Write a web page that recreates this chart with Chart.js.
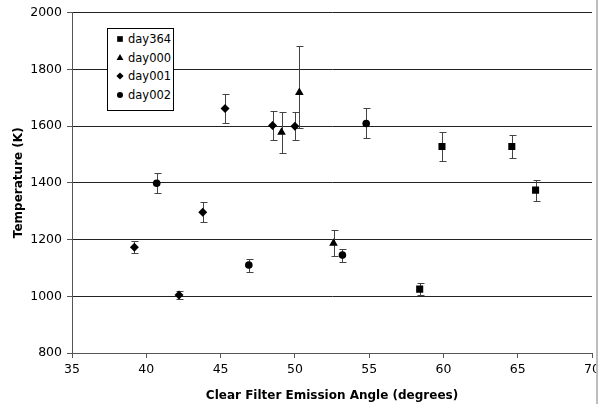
<!DOCTYPE html>
<html>
<head>
<meta charset="utf-8">
<script src="https://cdn.jsdelivr.net/npm/chart.js@4.4.1/dist/chart.umd.min.js"></script>
<style>
  html, body { margin: 0; padding: 0; background: #fff; }
  #wrap { position: relative; width: 604px; height: 404px; }
  #legend {
    position: absolute; left: 107px; top: 28px; width: 65px; height: 81px;
    border: 1px solid #000; background: #fff;
    font: 11.5px "DejaVu Sans", Verdana, sans-serif; color: #000;
  }
  #legend .row { position: absolute; left: 0; height: 18px; line-height: 18px; }
  #legend canvas { position: absolute; left: 5px; top: 2px; }
  #legend span { position: absolute; left: 20px; top: 0; white-space: nowrap; }
</style>
</head>
<body>
<div id="wrap">
  <canvas id="chart" width="604" height="404"></canvas>
  <div id="legend"></div>
</div>
<script>
// series
const seriesNames = ['day364', 'day000', 'day001', 'day002'];
const pointStyles = ['rect', 'triangle', 'rectRot', 'circle'];
const pointSizes = [5, 5, 4.5, 3.8];

const day364Angle = [58.4, 59.9, 64.6, 66.2];
const day364Temp = [1025, 1528, 1528, 1374];
const day364ErrUp = [21, 51, 42, 37];
const day364ErrDown = [21, 51, 42, 37];

const day000Angle = [49.1, 50.3, 52.6];
const day000Temp = [1578, 1718, 1187];
const day000ErrUp = [72, 165, 46];
const day000ErrDown = [72, 126, 46];

const day001Angle = [39.2, 42.2, 43.8, 45.3, 48.5, 50.0];
const day001Temp = [1173, 1004, 1296, 1662, 1602, 1599];
const day001ErrUp = [21, 14, 35, 51, 51, 49];
const day001ErrDown = [21, 14, 35, 51, 51, 49];

const day002Angle = [40.7, 46.9, 53.2, 54.8];
const day002Temp = [1398, 1110, 1145, 1609];
const day002ErrUp = [35, 23, 23, 53];
const day002ErrDown = [35, 23, 23, 53];

const xTicks = [35, 40, 45, 50, 55, 60, 65, 70];
const yTicks = [800, 1000, 1200, 1400, 1600, 1800, 2000];

const angles = [day364Angle, day000Angle, day001Angle, day002Angle];
const temps = [day364Temp, day000Temp, day001Temp, day002Temp];
const errUps = [day364ErrUp, day000ErrUp, day001ErrUp, day002ErrUp];
const errDowns = [day364ErrDown, day000ErrDown, day001ErrDown, day002ErrDown];

const datasets = seriesNames.map((name, i) => ({
    label: name,
    data: angles[i].map((a, j) => ({ x: a, y: temps[i][j] })),
    errUp: errUps[i],
    errDown: errDowns[i],
    pointStyle: pointStyles[i],
    pointRadius: pointSizes[i],
    pointHoverRadius: pointSizes[i],
    backgroundColor: '#000',
    borderColor: '#000',
    borderWidth: 0,
    showLine: false
}));

const errorBars = {
    id: 'errorBars',
    beforeDatasetsDraw(chart) {
        const ctx = chart.ctx;
        const yScale = chart.scales.y;
        ctx.save();
        ctx.strokeStyle = '#444';
        ctx.lineWidth = 1;
        chart.data.datasets.forEach((ds, i) => {
            chart.getDatasetMeta(i).data.forEach((pt, j) => {
                const v = ds.data[j].y;
                const top = Math.round(yScale.getPixelForValue(v + ds.errUp[j])) + 0.5;
                const bot = Math.round(yScale.getPixelForValue(v - ds.errDown[j])) + 0.5;
                const x = Math.round(pt.x) + 0.5;
                ctx.beginPath();
                ctx.moveTo(x, top);
                ctx.lineTo(x, bot);
                ctx.moveTo(x - 3, top);
                ctx.lineTo(x + 4, top);
                ctx.moveTo(x - 3, bot);
                ctx.lineTo(x + 4, bot);
                ctx.stroke();
            });
        });
        ctx.restore();
    }
};

// grey chart border on the right; whatever lies past it is clipped
const frameEdge = {
    id: 'frameEdge',
    afterDraw(chart) {
        const ctx = chart.ctx;
        ctx.save();
        ctx.fillStyle = '#fff';
        ctx.fillRect(597, 0, chart.width - 597, chart.height);
        ctx.fillStyle = '#bdbdbd';
        ctx.fillRect(596, 0, 2, chart.height);
        ctx.restore();
    }
};

const tickFont = { family: '"DejaVu Sans", Verdana, sans-serif', size: 12.5 };
const titleFont = { family: '"DejaVu Sans", Verdana, sans-serif', size: 12, weight: 'bold' };

new Chart(document.getElementById('chart').getContext('2d'), {
    type: 'scatter',
    data: { datasets: datasets },
    options: {
        responsive: false,
        animation: false,
        layout: { padding: { top: 12, right: 10, left: 0, bottom: 0 } },
        plugins: { legend: { display: false }, tooltip: { enabled: false } },
        scales: {
            x: {
                type: 'linear',
                min: 35, max: 70,
                afterBuildTicks: axis => { axis.ticks = xTicks.map(v => ({ value: v })); },
                afterFit: axis => { axis.height = 51; },
                ticks: { font: tickFont, color: '#000', padding: 4, maxRotation: 0, callback: v => String(v) },
                grid: { drawOnChartArea: false, drawTicks: true, tickLength: 5, color: '#555' },
                border: { color: '#555', width: 1 },
                title: { display: true, text: 'Clear Filter Emission Angle (degrees)', font: titleFont, color: '#000', padding: { top: 0, bottom: 1 } }
            },
            y: {
                type: 'linear',
                min: 800, max: 2000,
                afterBuildTicks: axis => { axis.ticks = yTicks.map(v => ({ value: v })); },
                afterFit: axis => { axis.width = 72; },
                ticks: { font: tickFont, color: '#000', padding: 5, callback: v => String(v) },
                grid: { color: '#222', lineWidth: 1, tickLength: 5, tickColor: '#555' },
                border: { color: '#555', width: 1 },
                title: { display: true, text: 'Temperature (K)', font: titleFont, color: '#000', padding: { top: 12, bottom: 0 } }
            }
        }
    },
    plugins: [errorBars, frameEdge]
});

// legend box inside the plot
const legend = document.getElementById('legend');
seriesNames.forEach((name, i) => {
    const row = document.createElement('div');
    row.className = 'row';
    row.style.top = (1 + i * 18.7) + 'px';
    const mk = document.createElement('canvas');
    mk.width = 14; mk.height = 14;
    const mctx = mk.getContext('2d');
    mctx.fillStyle = '#000';
    mctx.strokeStyle = '#000';
    Chart.helpers.drawPoint(mctx, { pointStyle: pointStyles[i], radius: pointSizes[i] * 0.8, borderWidth: 0 }, 7, 7);
    const label = document.createElement('span');
    label.textContent = name;
    row.appendChild(mk);
    row.appendChild(label);
    legend.appendChild(row);
});
</script>
</body>
</html>
